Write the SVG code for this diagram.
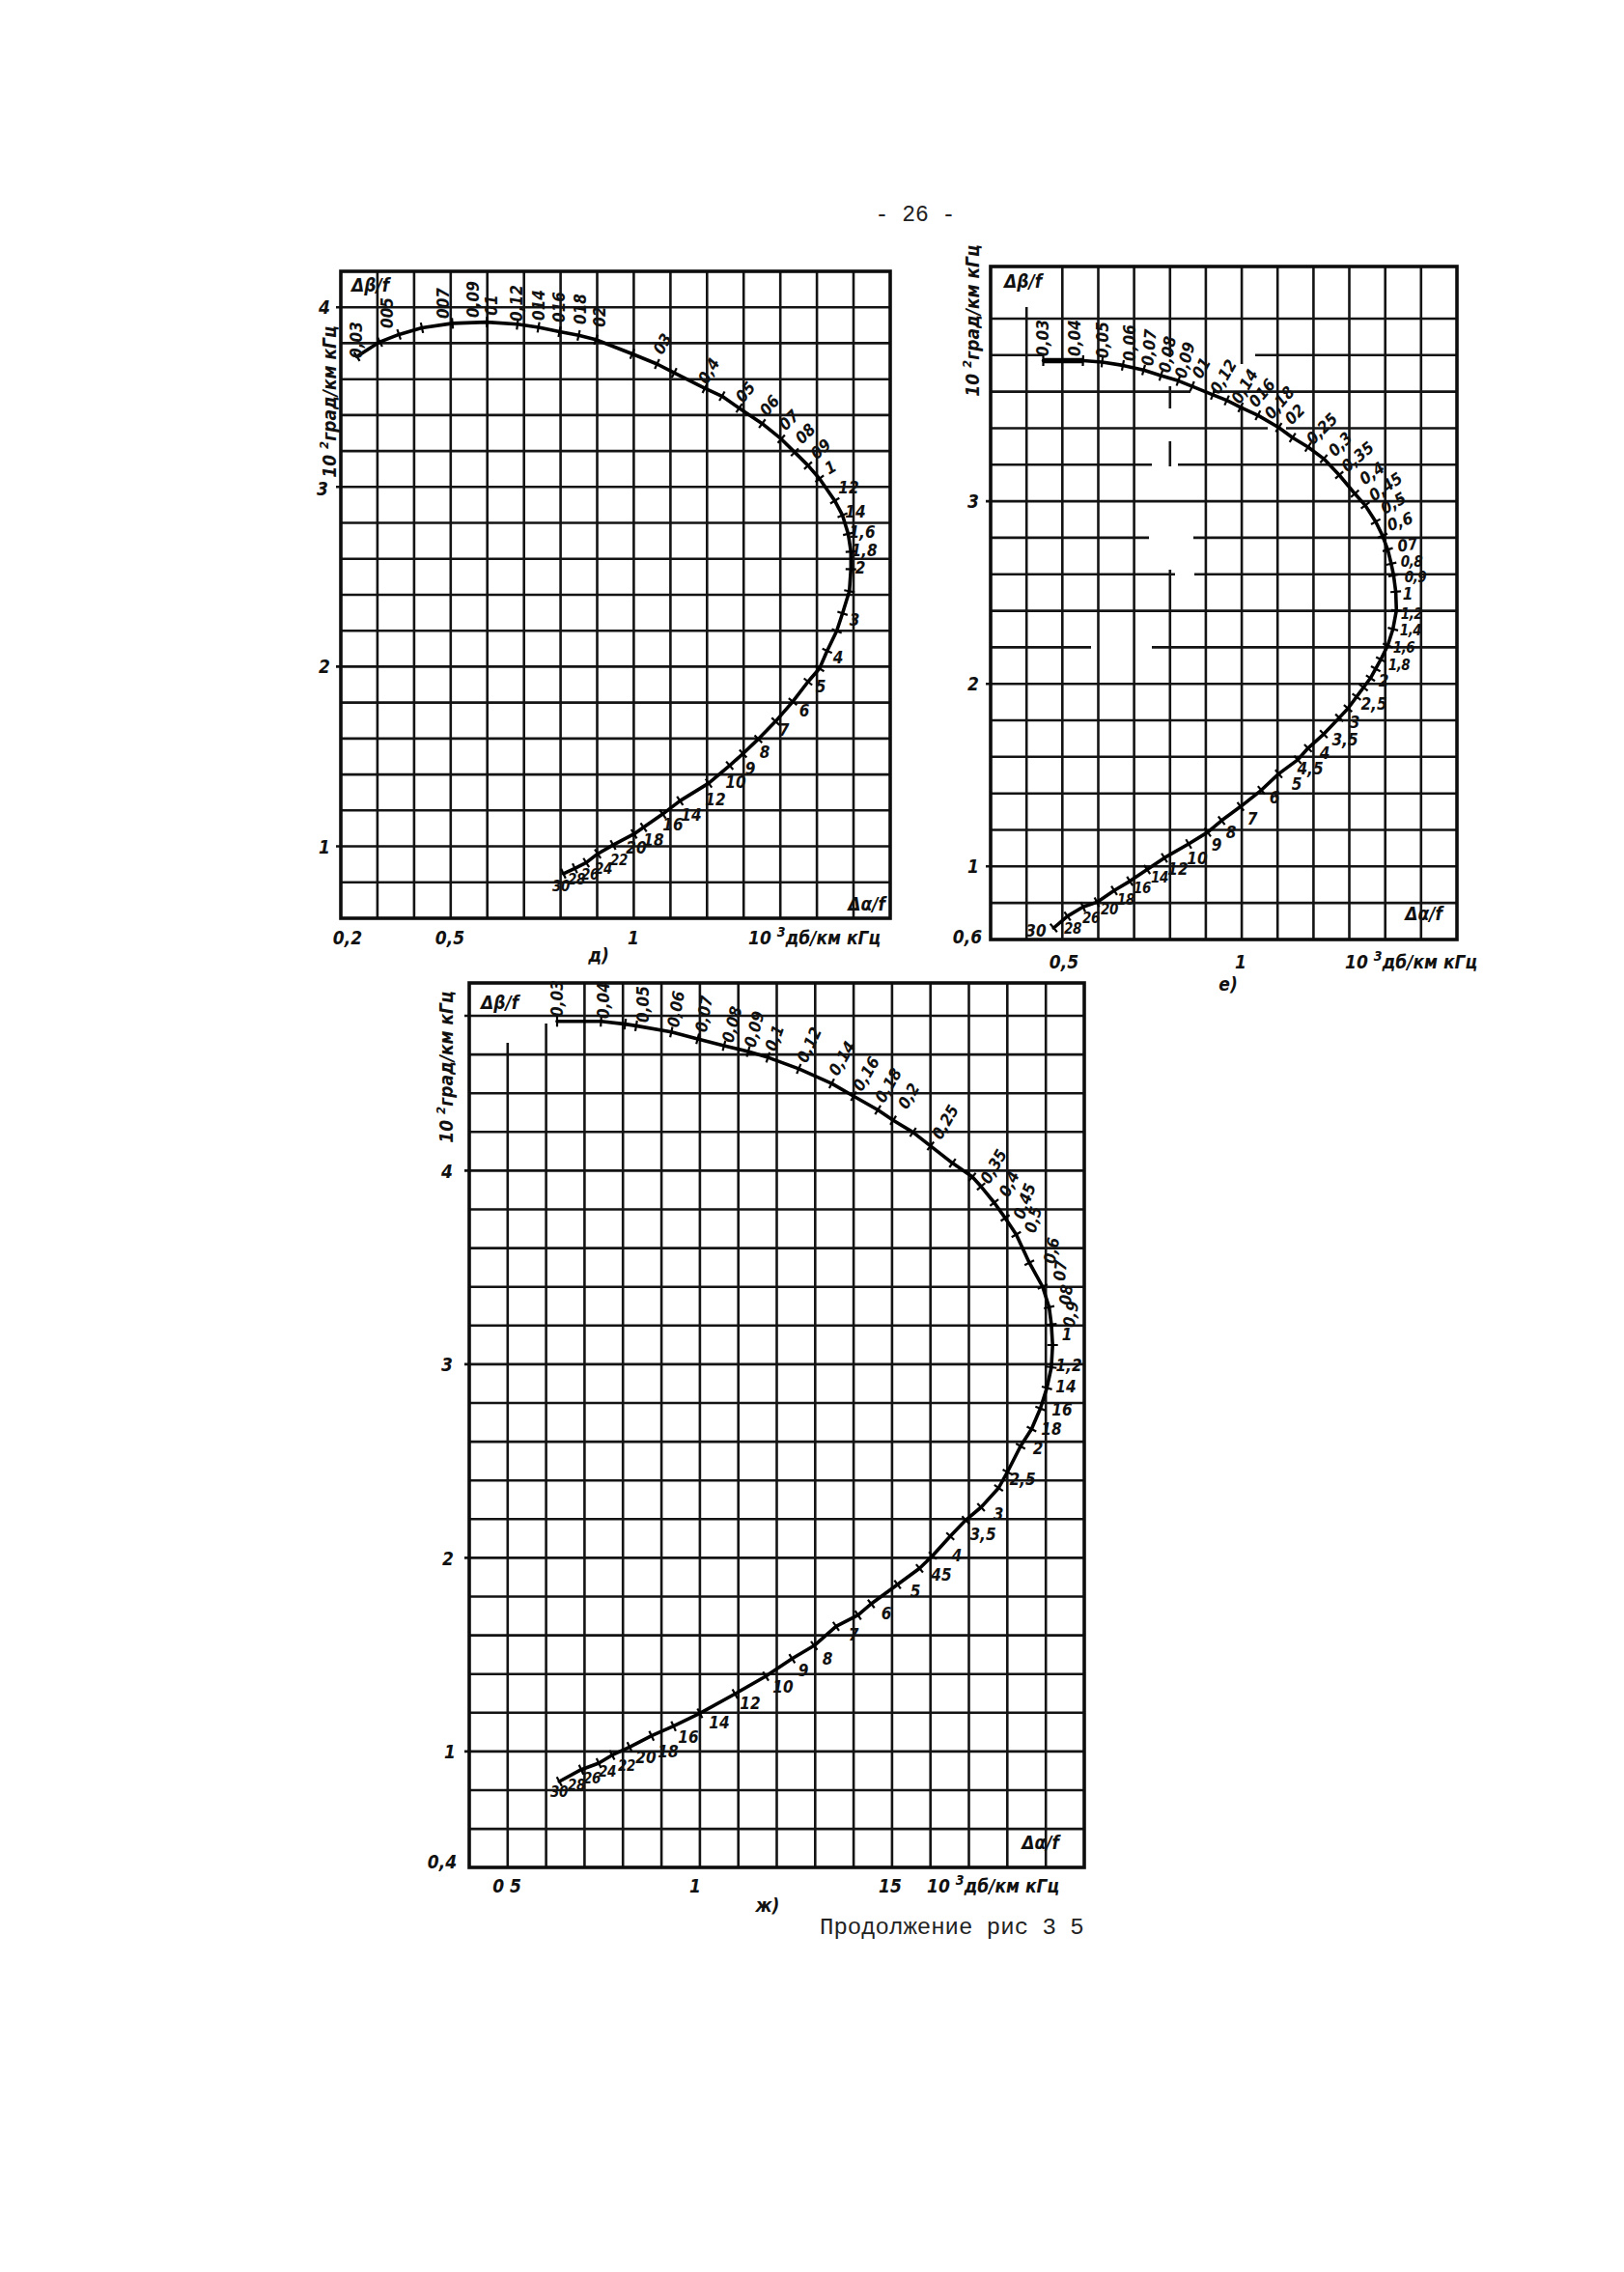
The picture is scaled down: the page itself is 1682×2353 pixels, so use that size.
<svg xmlns="http://www.w3.org/2000/svg" width="1682" height="2353" viewBox="0 0 1682 2353">
<style>
.bg{fill:#fff}
.g{stroke:#141414;stroke-width:2.6;fill:none}
.f{stroke:#0d0d0d;stroke-width:3.6;fill:none}
.c{stroke:#000;stroke-width:3.6;fill:none;stroke-linejoin:round;stroke-linecap:round;marker-start:url(#tk);marker-mid:url(#tk);marker-end:url(#tk)}
.t{font-family:"DejaVu Sans Condensed","DejaVu Sans",sans-serif;font-stretch:condensed;font-style:oblique;font-weight:bold;font-size:17px;fill:#111;text-anchor:middle;dominant-baseline:central}
.s{font-size:15px;letter-spacing:-0.5px}
.a{font-family:"DejaVu Sans Condensed","DejaVu Sans",sans-serif;font-stretch:condensed;font-style:oblique;font-weight:bold;font-size:19px;fill:#111}
.m{font-family:"Liberation Mono",monospace;fill:#222}
</style>
<defs>
<marker id="tk" markerUnits="userSpaceOnUse" markerWidth="14" markerHeight="14" refX="7" refY="7" orient="auto" overflow="visible"><path d="M7,1.5 L7,12.5" stroke="#000" stroke-width="2.2"/></marker>
</defs>
<rect class="bg" x="0" y="0" width="1682" height="2353"/>
<text class="m" x="948" y="229" font-size="23" text-anchor="middle">- 26 -</text>

<g id="chart-d">
<g id="grid-d">
<path class="g" d="M390.9 281V951M428.9 281V951M466.8 281V951M504.7 281V951M542.7 281V951M580.6 281V951M618.5 281V951M656.4 281V951M694.4 281V951M732.3 281V951M770.2 281V951M808.2 281V951M846.1 281V951M884 281V951"/>
<path class="g" d="M348 318.2H922M353 355.4H922M353 392.7H922M353 429.9H922M353 467.1H922M348 504.3H922M353 541.5H922M353 578.8H922M353 616H922M353 653.2H922M348 690.4H922M353 727.6H922M353 764.9H922M353 802.1H922M353 839.3H922M348 876.5H922M353 913.7H922"/>
<rect class="f" x="353" y="281" width="569" height="670"/>
</g>
<g id="axes-d">
<text class="a" x="364" y="302">Δβ/f</text>
<text class="a" x="917" y="943" text-anchor="end">Δα/f</text>
<text class="a" x="336" y="318" text-anchor="middle" dominant-baseline="central">4</text>
<text class="a" x="334" y="506" text-anchor="middle" dominant-baseline="central">3</text>
<text class="a" x="336" y="690" text-anchor="middle" dominant-baseline="central">2</text>
<text class="a" x="336" y="877" text-anchor="middle" dominant-baseline="central">1</text>
<text class="a" transform="translate(348,416) rotate(-90)" text-anchor="middle" font-size="18">10 <tspan dy="-8" font-size="13">2</tspan><tspan dy="8">град/км кГц</tspan></text>
<text class="a" x="360" y="978" text-anchor="middle">0,2</text>
<text class="a" x="466" y="978" text-anchor="middle">0,5</text>
<text class="a" x="656" y="978" text-anchor="middle">1</text>
<text class="a" x="775" y="978">10 <tspan dy="-8" font-size="14">3</tspan><tspan dy="8">дб/км кГц</tspan></text>
<text class="a" x="620" y="996" text-anchor="middle">д)</text>
</g>
<g id="curve-d">
<polyline class="c" points="369.6,369.2 393.4,354.1 413.2,346.4 437.0,339.5 468.6,334.9 504.3,333.6 535.9,335.8 557.7,339.0 579.5,343.6 599.3,347.3 617.1,351.8 654.8,366.5 680.5,377.0 698.3,386.1 730.0,402.1 747.8,410.3 765.6,422.7 789.4,438.7 809.2,454.7 823.1,468.4 836.9,482.1 848.8,495.8 864.6,518.6 872.6,533.7 878.5,552.9 881.3,571.2 881.3,589.5 879.7,612.3 872.6,635.2 866.6,653.5 856.7,674.0 848.8,692.3 836.9,706.0 821.1,726.6 803.3,747.1 785.4,765.4 769.6,780.5 755.7,792.8 734.0,811.1 704.3,829.4 686.4,843.1 666.6,856.8 656.7,863.7 635.0,875.1 619.1,884.2 607.2,893.4 595.4,899.3 583.5,904.8"/>
</g>
<g id="labels-d">
<text class="t" transform="translate(369,352) rotate(-90)">0,03</text>
<text class="t" transform="translate(401,324) rotate(-90)">005</text>
<text class="t" transform="translate(459,314) rotate(-90)">007</text>
<text class="t" transform="translate(490,310) rotate(-90)">0,09</text>
<text class="t" transform="translate(509,316) rotate(-90)">01</text>
<text class="t" transform="translate(535,314) rotate(-90)">0,12</text>
<text class="t" transform="translate(558,316) rotate(-90)">014</text>
<text class="t" transform="translate(579,318) rotate(-90)">016</text>
<text class="t" transform="translate(601,320) rotate(-90)">018</text>
<text class="t" transform="translate(621,328) rotate(-90)">02</text>
<text class="t" transform="translate(686,356) rotate(-60)">03</text>
<text class="t" transform="translate(734,384) rotate(-60)">0,4</text>
<text class="t" transform="translate(772,406) rotate(-50)">05</text>
<text class="t" transform="translate(797,420) rotate(-50)">06</text>
<text class="t" transform="translate(817,435) rotate(-45)">07</text>
<text class="t" transform="translate(834,449) rotate(-45)">08</text>
<text class="t" transform="translate(850,465) rotate(-40)">09</text>
<text class="t" transform="translate(860,484) rotate(-30)">1</text>
<text class="t" x="879" y="505">12</text>
<text class="t" x="886" y="530">14</text>
<text class="t" x="893" y="551">1,6</text>
<text class="t" x="895" y="570">1,8</text>
<text class="t" x="891" y="588">2</text>
<text class="t" x="885" y="642">3</text>
<text class="t" x="868" y="681">4</text>
<text class="t" x="850" y="711">5</text>
<text class="t" x="833" y="736">6</text>
<text class="t" x="812" y="756">7</text>
<text class="t" x="792" y="779">8</text>
<text class="t" x="777" y="796">9</text>
<text class="t" x="762" y="810">10</text>
<text class="t" x="741" y="828">12</text>
<text class="t" x="716" y="844">14</text>
<text class="t" x="697" y="854">16</text>
<text class="t" x="677" y="870">18</text>
<text class="t" x="659" y="878">20</text>
<text class="t s" x="641" y="891">22</text>
<text class="t s" x="625" y="900">24</text>
<text class="t s" x="611" y="906">26</text>
<text class="t s" x="597" y="911">28</text>
<text class="t s" x="581" y="918">30</text>
</g>
</g>

<g id="chart-e">
<g id="grid-e">
<path class="g" d="M1063.2 318V973M1100.3 276V973M1137.5 276V973M1174.6 276V973M1211.8 276V370M1211.8 400V423M1211.8 457V483M1211.8 590V973M1248.9 276V973M1286.1 276V377M1286.1 420V973M1323.2 276V973M1360.4 276V973M1397.5 276V973M1434.7 276V973M1471.8 276V973"/>
<path class="g" d="M1026 330H1509M1026 367.8H1080M1300 367.8H1509M1026 405.6H1233M1256 405.6H1509M1026 443.5H1313M1332 443.5H1509M1026 481.3H1193M1220 481.3H1509M1021 519.1H1509M1026 556.9H1190M1236 556.9H1509M1026 594.7H1217M1237 594.7H1509M1026 632.6H1509M1026 670.4H1130M1193 670.4H1509M1021 708.2H1509M1026 746H1509M1026 783.8H1509M1026 821.7H1509M1026 859.5H1509M1021 897.3H1509M1026 935.1H1509"/>
<rect class="f" x="1026" y="276" width="483" height="697"/>
</g>
<g id="axes-e">
<text class="a" x="1040" y="298">Δβ/f</text>
<text class="a" x="1494" y="953" text-anchor="end">Δα/f</text>
<text class="a" x="1008" y="519" text-anchor="middle" dominant-baseline="central">3</text>
<text class="a" x="1008" y="708" text-anchor="middle" dominant-baseline="central">2</text>
<text class="a" x="1008" y="897" text-anchor="middle" dominant-baseline="central">1</text>
<text class="a" x="1002" y="970" text-anchor="middle" dominant-baseline="central">0,6</text>
<text class="a" transform="translate(1014,332) rotate(-90)" text-anchor="middle" font-size="18">10 <tspan dy="-8" font-size="13">2</tspan><tspan dy="8">град/км кГц</tspan></text>
<text class="a" x="1102" y="1003" text-anchor="middle">0,5</text>
<text class="a" x="1285" y="1003" text-anchor="middle">1</text>
<text class="a" x="1393" y="1003">10 <tspan dy="-8" font-size="14">3</tspan><tspan dy="8">дб/км кГц</tspan></text>
<text class="a" x="1272" y="1026" text-anchor="middle">е)</text>
</g>
<g id="curve-e">
<path d="M1080.5 373.5H1121.7" stroke="#000" stroke-width="5.5"/>
<polyline class="c" points="1080.5,373.5 1121.7,373.5 1141.5,375.0 1163.0,378.4 1184.5,383.2 1202.4,389.0 1220.4,394.3 1234.7,400.1 1256.2,408.8 1270.6,414.6 1284.9,421.9 1302.8,430.1 1324.4,442.7 1338.7,453.3 1354.8,463.0 1371.0,475.1 1387.1,492.0 1403.2,511.3 1414.0,523.4 1424.8,540.3 1431.9,554.8 1437.3,569.3 1440.9,583.8 1443.4,595.9 1445.6,612.8 1446.3,632.2 1442.7,651.5 1437.3,668.5 1430.1,683.0 1424.8,692.6 1419.4,702.3 1412.2,712.0 1405.0,721.6 1396.1,733.7 1387.1,743.4 1371.0,760.3 1354.8,774.8 1344.1,786.9 1324.4,801.4 1306.4,818.3 1284.9,835.3 1265.2,849.8 1250.8,861.9 1231.1,874.0 1206.0,888.4 1188.1,900.5 1170.2,912.6 1154.0,922.3 1136.1,934.4 1121.7,939.2 1105.6,948.9 1091.3,961.0"/>
</g>
<g id="labels-e">
<text class="t" transform="translate(1080,350) rotate(-90)">0,03</text>
<text class="t" transform="translate(1113,350) rotate(-90)">0,04</text>
<text class="t" transform="translate(1142,352) rotate(-90)">0,05</text>
<text class="t" transform="translate(1170,355) rotate(-90)">0,06</text>
<text class="t" transform="translate(1190,360) rotate(-85)">0,07</text>
<text class="t" transform="translate(1209,367) rotate(-80)">0,08</text>
<text class="t" transform="translate(1227,373) rotate(-75)">0,09</text>
<text class="t" transform="translate(1244,381) rotate(-60)">01</text>
<text class="t" transform="translate(1267,390) rotate(-60)">0,12</text>
<text class="t" transform="translate(1289,400) rotate(-60)">0,14</text>
<text class="t" transform="translate(1307,407) rotate(-50)">016</text>
<text class="t" transform="translate(1325,417) rotate(-50)">0,18</text>
<text class="t" transform="translate(1341,429) rotate(-45)">02</text>
<text class="t" transform="translate(1369,444) rotate(-45)">0,25</text>
<text class="t" transform="translate(1388,460) rotate(-45)">0,3</text>
<text class="t" transform="translate(1406,473) rotate(-40)">0,35</text>
<text class="t" transform="translate(1421,490) rotate(-35)">0,4</text>
<text class="t" transform="translate(1435,504) rotate(-35)">0,45</text>
<text class="t" transform="translate(1443,521) rotate(-30)">0,5</text>
<text class="t" transform="translate(1450,540) rotate(-20)">0,6</text>
<text class="t" transform="translate(1458,564) rotate(-10)">07</text>
<text class="t s" x="1462" y="582">0,8</text>
<text class="t s" x="1466" y="598">0,9</text>
<text class="t" x="1458" y="615">1</text>
<text class="t s" x="1462" y="636">1,2</text>
<text class="t s" x="1461" y="653">1,4</text>
<text class="t s" x="1454" y="671">1,6</text>
<text class="t s" x="1449" y="689">1,8</text>
<text class="t" x="1433" y="705">2</text>
<text class="t" x="1423" y="729">2,5</text>
<text class="t" x="1403" y="748">3</text>
<text class="t" x="1393" y="766">3,5</text>
<text class="t" x="1372" y="780">4</text>
<text class="t" x="1357" y="796">4,5</text>
<text class="t" x="1343" y="812">5</text>
<text class="t" x="1320" y="826">6</text>
<text class="t" x="1297" y="848">7</text>
<text class="t" x="1275" y="862">8</text>
<text class="t" x="1260" y="875">9</text>
<text class="t" x="1240" y="889">10</text>
<text class="t" x="1220" y="900">12</text>
<text class="t s" x="1201" y="909">14</text>
<text class="t s" x="1183" y="920">16</text>
<text class="t s" x="1166" y="932">18</text>
<text class="t s" x="1149" y="942">20</text>
<text class="t s" x="1130" y="951">26</text>
<text class="t s" x="1111" y="962">28</text>
<text class="t" x="1073" y="964">30</text>
</g>
</g>

<g id="chart-zh">
<g id="grid-zh">
<path class="g" d="M525.8 1080V1934M565.6 1060V1934M605.4 1018V1934M645.2 1018V1934M685.1 1018V1934M724.9 1018V1934M764.7 1018V1934M804.5 1018V1934M844.3 1018V1934M884.1 1018V1934M923.9 1018V1934M963.7 1018V1934M1003.5 1018V1934M1043.3 1018V1934M1083.2 1018V1934"/>
<path class="g" d="M481 1052H1123M486 1092.1H1123M486 1132.2H1123M486 1172.3H1123M481 1212.4H1123M486 1252.5H1123M486 1292.6H1123M486 1332.7H1123M486 1372.8H1123M481 1412.9H1123M486 1453H1123M486 1493.1H1123M486 1533.2H1123M486 1573.3H1123M481 1613.4H1123M486 1653.5H1123M486 1693.6H1123M486 1733.7H1123M486 1773.8H1123M481 1813.9H1123M486 1854H1123M486 1894.1H1123"/>
<rect class="f" x="486" y="1018" width="637" height="916"/>
</g>
<g id="axes-zh">
<text class="a" x="498" y="1045">Δβ/f</text>
<text class="a" x="1097" y="1915" text-anchor="end">Δα/f</text>
<text class="a" x="463" y="1213" text-anchor="middle" dominant-baseline="central">4</text>
<text class="a" x="463" y="1413" text-anchor="middle" dominant-baseline="central">3</text>
<text class="a" x="464" y="1614" text-anchor="middle" dominant-baseline="central">2</text>
<text class="a" x="466" y="1814" text-anchor="middle" dominant-baseline="central">1</text>
<text class="a" x="458" y="1928" text-anchor="middle" dominant-baseline="central">0,4</text>
<text class="a" transform="translate(469,1105) rotate(-90)" text-anchor="middle" font-size="18">10 <tspan dy="-8" font-size="13">2</tspan><tspan dy="8">град/км кГц</tspan></text>
<text class="a" x="525" y="1960" text-anchor="middle">0 5</text>
<text class="a" x="720" y="1960" text-anchor="middle">1</text>
<text class="a" x="922" y="1960" text-anchor="middle">15</text>
<text class="a" x="960" y="1960">10 <tspan dy="-8" font-size="14">3</tspan><tspan dy="8">дб/км кГц</tspan></text>
<text class="a" x="795" y="1980" text-anchor="middle">ж)</text>
</g>
<g id="curve-zh">
<polyline class="c" points="577.0,1057.8 622.5,1057.8 647.5,1060.6 658.9,1062.4 695.3,1068.8 722.6,1075.9 749.9,1083.0 774.9,1089.1 795.4,1095.1 827.3,1106.9 861.4,1122.1 884.1,1135.3 909.2,1149.5 925.1,1160.2 945.6,1172.6 963.8,1186.8 986.5,1204.6 1007.0,1218.8 1016.1,1228.8 1029.7,1245.5 1041.1,1261.4 1052.5,1278.5 1066.1,1307.7 1079.8,1332.5 1086.6,1353.8 1088.9,1371.6 1090.2,1393.0 1088.9,1416.0 1084.3,1437.4 1077.5,1458.7 1068.4,1480.0 1057.0,1497.8 1043.4,1524.5 1034.3,1541.0 1016.1,1561.0 1000.2,1574.3 984.2,1591.0 966.0,1611.0 952.4,1624.3 929.6,1641.0 902.3,1661.0 888.7,1672.7 865.9,1684.3 843.2,1704.3 820.4,1717.7 793.1,1736.0 761.3,1754.3 724.9,1774.3 697.6,1787.7 674.8,1797.7 652.1,1809.3 633.9,1817.7 620.2,1826.0 602.0,1832.7 579.3,1845.0"/>
</g>
<g id="labels-zh">
<text class="t" transform="translate(577,1034) rotate(-90)">0,03</text>
<text class="t" transform="translate(625,1036) rotate(-90)">0,04</text>
<text class="t" transform="translate(666,1040) rotate(-90)">0,05</text>
<text class="t" transform="translate(700,1045) rotate(-80)">0,06</text>
<text class="t" transform="translate(729,1050) rotate(-80)">0,07</text>
<text class="t" transform="translate(758,1061) rotate(-75)">0,08</text>
<text class="t" transform="translate(781,1066) rotate(-75)">0,09</text>
<text class="t" transform="translate(802,1075) rotate(-70)">0,1</text>
<text class="t" transform="translate(838,1082) rotate(-65)">0,12</text>
<text class="t" transform="translate(872,1096) rotate(-60)">0,14</text>
<text class="t" transform="translate(897,1112) rotate(-60)">0,16</text>
<text class="t" transform="translate(920,1124) rotate(-60)">0,18</text>
<text class="t" transform="translate(941,1135) rotate(-60)">0,2</text>
<text class="t" transform="translate(979,1162) rotate(-60)">0,25</text>
<text class="t" transform="translate(1029,1208) rotate(-60)">0,35</text>
<text class="t" transform="translate(1045,1226) rotate(-65)">0,4</text>
<text class="t" transform="translate(1061,1244) rotate(-70)">0,45</text>
<text class="t" transform="translate(1070,1263) rotate(-75)">0,5</text>
<text class="t" transform="translate(1089,1295) rotate(-80)">0,6</text>
<text class="t" transform="translate(1098,1316) rotate(-85)">07</text>
<text class="t" transform="translate(1104,1341) rotate(-85)">08</text>
<text class="t" transform="translate(1109,1361) rotate(-80)">0,9</text>
<text class="t" x="1105" y="1382">1</text>
<text class="t" x="1107" y="1414">1,2</text>
<text class="t" x="1104" y="1436">14</text>
<text class="t" x="1100" y="1460">16</text>
<text class="t" x="1089" y="1480">18</text>
<text class="t" x="1075" y="1500">2</text>
<text class="t" x="1059" y="1532">2,5</text>
<text class="t" x="1034" y="1568">3</text>
<text class="t" x="1018" y="1589">3,5</text>
<text class="t" x="991" y="1611">4</text>
<text class="t" x="975" y="1631">45</text>
<text class="t" x="948" y="1648">5</text>
<text class="t" x="918" y="1671">6</text>
<text class="t" x="884" y="1693">7</text>
<text class="t" x="857" y="1718">8</text>
<text class="t" x="832" y="1730">9</text>
<text class="t" x="811" y="1747">10</text>
<text class="t" x="777" y="1764">12</text>
<text class="t" x="745" y="1784">14</text>
<text class="t" x="713" y="1799">16</text>
<text class="t" x="692" y="1814">18</text>
<text class="t" x="669" y="1820">20</text>
<text class="t s" x="649" y="1829">22</text>
<text class="t s" x="629" y="1835">24</text>
<text class="t s" x="613" y="1842">26</text>
<text class="t s" x="597" y="1849">28</text>
<text class="t s" x="579" y="1856">30</text>
</g>
</g>

<text class="m" x="849" y="2003" font-size="24">Продолжение рис 3 5</text>
</svg>
